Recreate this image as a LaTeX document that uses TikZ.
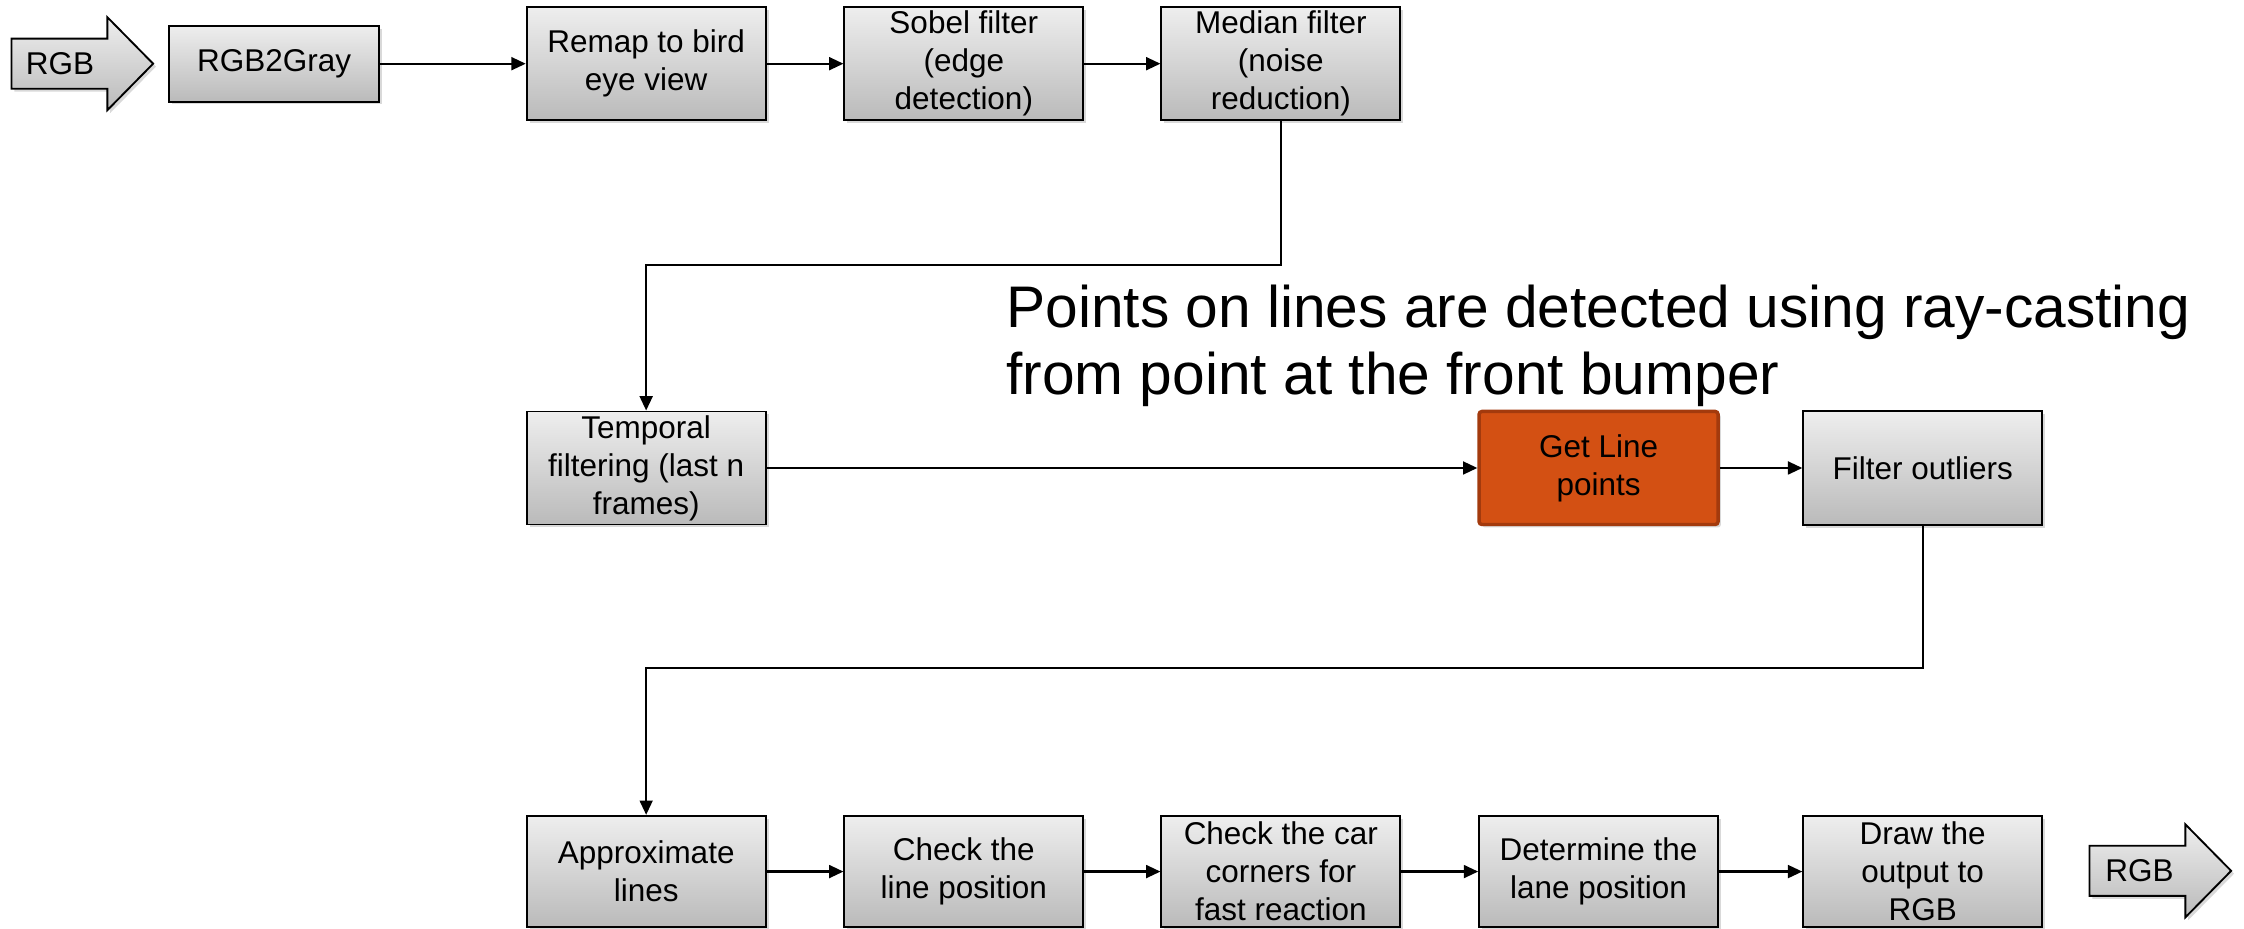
\documentclass[tikz,border=0pt]{standalone}
\usepackage{fontspec}
\setmainfont{Liberation Sans}
\usetikzlibrary{shadows,arrows.meta}
\definecolor{boxtop}{RGB}{238,238,238}
\definecolor{boxbot}{RGB}{186,186,186}
\definecolor{hotfill}{RGB}{211,80,19}
\definecolor{hotedge}{RGB}{163,58,13}
\begin{document}
\begin{tikzpicture}[x=1pt,y=-1pt,
  stage/.style={draw=black, line width=1.3pt, top color=boxtop, bottom color=boxbot,
    minimum width=167pt, minimum height=79pt, inner sep=0pt, align=center,
    font=\fontsize{22}{26.5}\selectfont,
    drop shadow={opacity=0.3, shadow xshift=2pt, shadow yshift=-2pt}},
  hot/.style={stage, draw=hotedge, line width=2.4pt, fill=hotfill, top color=hotfill,
    bottom color=hotfill, rounded corners=2pt},
  flow/.style={line width=1.5pt, -{Triangle[length=10pt,width=9pt]}},
  bigarrow/.style={draw=black, line width=1.3pt, top color=boxtop, bottom color=boxbot,
    drop shadow={opacity=0.3, shadow xshift=2pt, shadow yshift=-2pt}},
  label/.style={inner sep=0pt, font=\fontsize{22}{26.5}\selectfont}]
\useasboundingbox (0,0) rectangle (1568,649);

% input / output block arrows
\draw[bigarrow] (8,27) -- (75,27) -- (75,12) -- (107,44.5) -- (75,77) -- (75,62) -- (8,62) -- cycle;
\node[label] (rgbin) at (42,44.5) {RGB};
\draw[bigarrow] (1460,591) -- (1527,591) -- (1527,576) -- (1559,608.5) -- (1527,641) -- (1527,626) -- (1460,626) -- cycle;
\node[label] (rgbout) at (1495,608.5) {RGB};

% first row
\node[stage, minimum width=147pt, minimum height=53pt] (gray) at (191.5,44.5) {RGB2Gray};
\node[stage] (remap) at (451.5,44.5) {Remap to bird\\eye view};
\node[stage] (sobel) at (673.5,44.5) {Sobel filter\\(edge\\detection)};
\node[stage] (median) at (895,44.5) {Median filter\\(noise\\reduction)};

% second row
\node[stage] (temporal) at (451.5,327) {Temporal\\filtering (last n\\frames)};
\node[hot] (getline) at (1117,327) {Get Line\\points};
\node[stage, minimum height=80pt] (outliers) at (1343.5,327) {Filter outliers};

% third row
\node[stage, minimum height=78pt] (approx) at (451.5,609) {Approximate\\lines};
\node[stage, minimum height=78pt] (checkline) at (673.5,609) {Check the\\line position};
\node[stage, minimum height=78pt] (corners) at (895,609) {Check the car\\corners for\\fast reaction};
\node[stage, minimum height=78pt] (lane) at (1117,609) {Determine the\\lane position};
\node[stage, minimum height=78pt] (drawout) at (1343.5,609) {Draw the\\output to\\RGB};

% note
\node[anchor=north west, inner sep=0pt, align=left, font=\fontsize{41}{47}\selectfont] (note) at (703,199)
  {Points on lines are detected using ray-casting\\from point at the front bumper};

% bends of the return lines
\coordinate (bendA) at (451.5,185);
\coordinate (bendB) at (451.5,467);

% connectors
\draw[flow] (gray) -- (remap);
\draw[flow] (remap) -- (sobel);
\draw[flow] (sobel) -- (median);
\draw[flow] (median.south) |- (bendA) -- (temporal.north);
\draw[flow] (temporal) -- (getline);
\draw[flow] (getline) -- (outliers);
\draw[flow] (outliers.south) |- (bendB) -- (approx.north);
\draw[flow] (approx) -- (checkline);
\draw[flow] (checkline) -- (corners);
\draw[flow] (corners) -- (lane);
\draw[flow] (lane) -- (drawout);
\end{tikzpicture}
\end{document}
